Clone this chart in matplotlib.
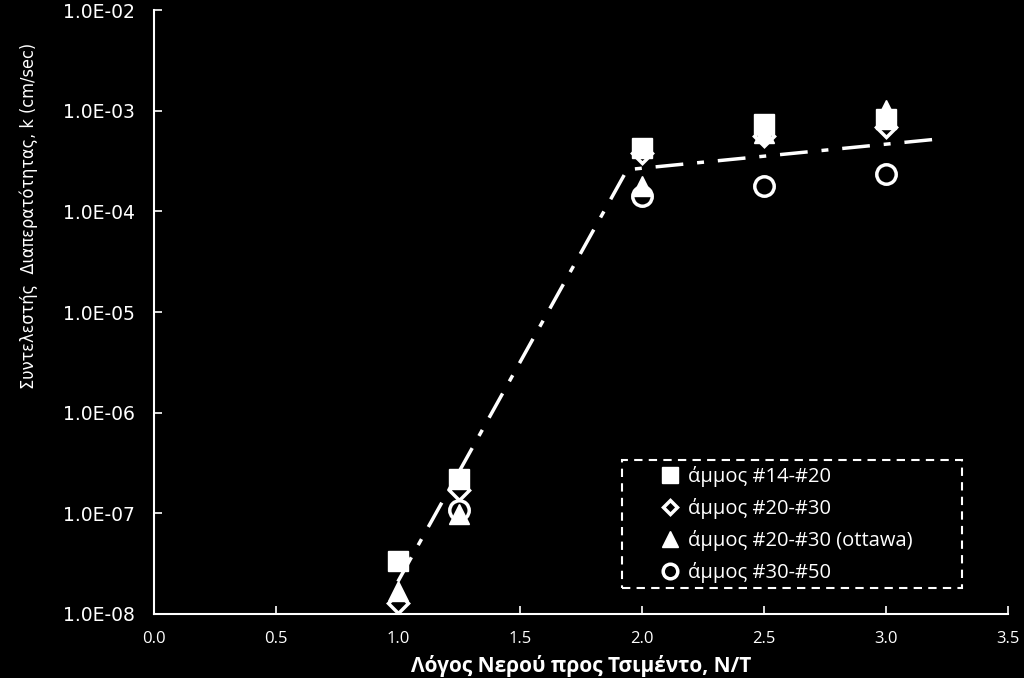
import matplotlib
matplotlib.use('Agg')
import matplotlib.pyplot as plt
from matplotlib.patches import Rectangle
import numpy as np

# water/cement ratio
wc = [1.0, 1.25, 2.0, 2.5, 3.0]

k_14_20 = [3.4e-8, 2.2e-7, 4.3e-4, 7.4e-4, 8.3e-4]
k_20_30 = [1.3e-8, 1.7e-7, 3.8e-4, 5.6e-4, 6.9e-4]
k_20_30_ott = [1.7e-8, 0.98e-7, 1.8e-4, 6.0e-4, 1.02e-3]
k_30_50 = [np.nan, 1.07e-7, 1.42e-4, 1.8e-4, 2.35e-4]

labels = ['άμμος #14-#20', 'άμμος #20-#30', 'άμμος #20-#30 (ottawa)', 'άμμος #30-#50']

# trend line (dash-dot)
trend_x = [1.0, 1.94, 3.2]
trend_y = [2.1e-8, 2.6e-4, 5.2e-4]

yticks = [1e-8, 1e-7, 1e-6, 1e-5, 1e-4, 1e-3, 1e-2]
ytick_labels = ['1.0E-08', '1.0E-07', '1.0E-06', '1.0E-05', '1.0E-04', '1.0E-03', '1.0E-02']
xticks = [0.0, 0.5, 1.0, 1.5, 2.0, 2.5, 3.0, 3.5]

plt.rcParams['font.family'] = ['Open Sans', 'DejaVu Sans']

fig = plt.figure(figsize=(10.24, 6.78), dpi=100, facecolor='black')
ax = fig.add_axes([0.1504, 0.0944, 0.8336, 0.8906], facecolor='black')

ax.plot(trend_x, trend_y, color='white', lw=2.5, linestyle=(0, (8, 4, 2, 4)), zorder=2)

h1, = ax.plot(wc, k_14_20, 's', color='white', ms=15, label=labels[0], zorder=6)
h2, = ax.plot(wc, k_20_30, 'D', mfc='black', mec='white', mew=2.5, ms=10, label=labels[1], zorder=3)
h3, = ax.plot(wc, k_20_30_ott, '^', color='white', ms=15, label=labels[2], zorder=5)
h4, = ax.plot(wc, k_30_50, 'o', mfc='black', mec='white', mew=2.5, ms=14, label=labels[3], zorder=4)

ax.set_yscale('log')
ax.set_ylim(1e-8, 1e-2)
ax.set_xlim(0, 3.5)
ax.set_yticks(yticks)
ax.set_yticklabels(ytick_labels, family=['DejaVu Sans'], fontsize=13.5, color='white')
ax.minorticks_off()
ax.set_xticks(xticks)
ax.set_xticklabels(['%.1f' % t for t in xticks], fontsize=12, color='white')

ax.tick_params(axis='both', direction='in', colors='white', length=6, width=1.2)
ax.tick_params(axis='y', pad=14)
ax.tick_params(axis='x', pad=12)

for s in ['top', 'right']:
    ax.spines[s].set_visible(False)
for s in ['left', 'bottom']:
    ax.spines[s].set_color('white')
    ax.spines[s].set_linewidth(1.5)

ax.set_xlabel('Λόγος Νερού προς Τσιμέντο, Ν/Τ', fontsize=15, fontweight='bold', color='white', labelpad=6)
ax.set_ylabel('Συντελεστής  Διαπερατότητας, k (cm/sec)', fontsize=13, color='white',
              family=['DejaVu Sans'], fontstretch='condensed')
ax.yaxis.set_label_coords(-0.136, 0.66)

# dashed legend frame
ax.add_patch(Rectangle((0.548, 0.043), 0.398, 0.212, transform=ax.transAxes, fill=False,
                       edgecolor='white', lw=1.5, linestyle=(0, (4, 3)), zorder=7))

leg = ax.legend(handles=[h1, h2, h3, h4], loc='upper left', bbox_to_anchor=(0.595, 0.245),
                frameon=False, fontsize=14.5, labelcolor='white',
                handletextpad=0.45, borderpad=0, labelspacing=0.55, markerscale=0.75,
                borderaxespad=0, handlelength=0.85)
for t in leg.get_texts():
    t.set_color('white')

fig.savefig('out.png', dpi=100, facecolor='black')
